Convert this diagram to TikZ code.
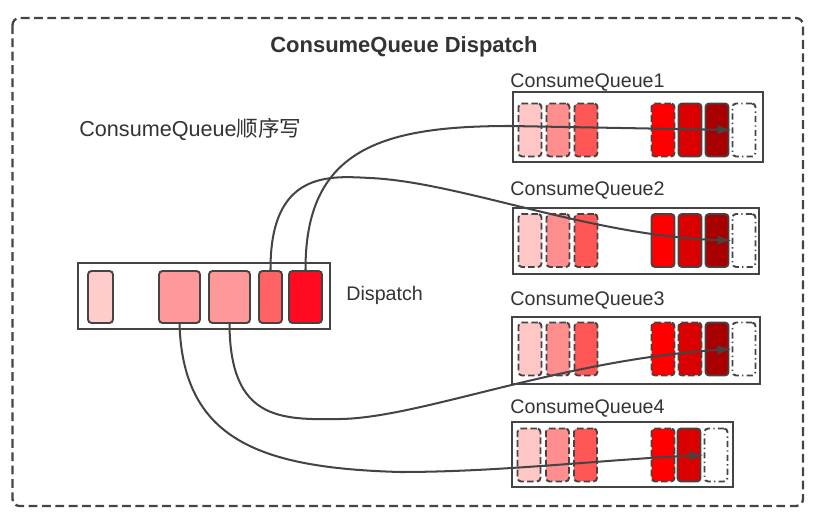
\documentclass[tikz,border=0pt]{standalone}
\usepackage{fontspec}
\setmainfont{Liberation Sans}
\newfontfamily\cjk{Noto Sans CJK SC}
\usetikzlibrary{arrows.meta}
\definecolor{edge}{HTML}{444444}
\definecolor{ink}{HTML}{333333}
\definecolor{pinkA}{HTML}{FFCCCC}
\definecolor{pinkB}{HTML}{FF9999}
\definecolor{pinkC}{HTML}{FF6262}
\definecolor{redD}{HTML}{FF0A20}
\definecolor{qA}{HTML}{FFC6C6}
\definecolor{qB}{HTML}{FF8E8E}
\definecolor{qC}{HTML}{FF5656}
\definecolor{qD}{HTML}{FF0000}
\definecolor{qE}{HTML}{DA0000}
\definecolor{qF}{HTML}{A80000}
\begin{document}
\begin{tikzpicture}[x=0.02cm, y=-0.02cm,
    frame/.style={draw=edge, line width=1.3pt, dash pattern=on 5pt off 2.6pt, rounded corners=4pt},
    qbox/.style={draw=edge, line width=1.1pt, minimum width=5cm, minimum height=1.36cm, inner sep=0pt},
    cell/.style={draw=edge, line width=1.1pt, rounded corners=2pt, minimum width=0.46cm, minimum height=1.06cm, inner sep=0pt},
    dcell/.style={cell, dash pattern=on 3.8pt off 1.8pt},
    ecell/.style={cell, fill=white, dash pattern=on 3.5pt off 1.8pt on 0.8pt off 1.8pt},
    link/.style={draw=edge, line width=1.15pt, -{Latex[length=8pt, width=5.5pt]}},
    txt/.style={text=ink, inner sep=0pt, font=\fontsize{11.2}{13}\selectfont}]
    \useasboundingbox (0,0) rectangle (818,513);
    \draw[frame] (12.5,18) rectangle (803,506);
    \node[txt, anchor=base, font=\bfseries\fontsize{12.5}{15}\selectfont] (title) at (404,53) {ConsumeQueue Dispatch};
    \node[txt, anchor=base west, font=\fontsize{12.3}{15}\selectfont] (order) at (79,137) {ConsumeQueue{\cjk 顺序写}};
    % dispatch
    \node[qbox, minimum width=5.04cm, minimum height=1.32cm] (dbox) at (204,296) {};
    \node[cell, fill=pinkA, minimum width=0.5cm, minimum height=1.04cm] (d1) at (100.5,297) {};
    \node[cell, fill=pinkB, minimum width=0.82cm, minimum height=1.04cm] (d2) at (179.5,297) {};
    \node[cell, fill=pinkB, minimum width=0.82cm, minimum height=1.04cm] (d3) at (229.5,297) {};
    \node[cell, fill=pinkC, minimum width=0.46cm, minimum height=1.04cm] (d4) at (270.5,297) {};
    \node[cell, fill=redD, minimum width=0.66cm, minimum height=1.04cm] (d5) at (305.5,297) {};
    \node[txt, anchor=west] (dlabel) at (346,295) {Dispatch};
    % queue 1
    \node[txt, anchor=base west] (q1label) at (510,88) {ConsumeQueue1};
    \node[qbox, minimum height=1.4cm] (q1) at (638,127) {};
    \node[dcell, fill=qA] (q1c1) at (530,130) {};
    \node[dcell, fill=qB] (q1c2) at (558,130) {};
    \node[dcell, fill=qC] (q1c3) at (586,130) {};
    \node[dcell, fill=qD] (q1c4) at (663,130) {};
    \node[cell, fill=qE] (q1c5) at (690,130) {};
    \node[cell, fill=qF] (q1c6) at (717,130) {};
    \node[ecell] (q1c7) at (744,130) {};
    % queue 2
    \node[txt, anchor=base west] (q2label) at (510,196) {ConsumeQueue2};
    \node[qbox, minimum width=4.92cm, minimum height=1.32cm] (q2) at (636,241) {};
    \node[dcell, fill=qA] (q2c1) at (530,240.5) {};
    \node[dcell, fill=qB] (q2c2) at (558,240.5) {};
    \node[dcell, fill=qC] (q2c3) at (586,240.5) {};
    \node[cell, fill=qD] (q2c4) at (663,240.5) {};
    \node[cell, fill=qE] (q2c5) at (690,240.5) {};
    \node[cell, fill=qF] (q2c6) at (717,240.5) {};
    \node[ecell] (q2c7) at (744,240.5) {};
    % queue 3
    \node[txt, anchor=base west] (q3label) at (510,305) {ConsumeQueue3};
    \node[qbox, minimum width=4.96cm, minimum height=1.34cm] (q3) at (636,350.5) {};
    \node[dcell, fill=qA] (q3c1) at (530,349) {};
    \node[dcell, fill=qB] (q3c2) at (558,349) {};
    \node[dcell, fill=qC] (q3c3) at (586,349) {};
    \node[dcell, fill=qD] (q3c4) at (663,349) {};
    \node[dcell, fill=qE] (q3c5) at (690,349) {};
    \node[cell, fill=qF] (q3c6) at (717,349) {};
    \node[ecell] (q3c7) at (744,349) {};
    % queue 4
    \node[txt, anchor=base west] (q4label) at (510,413) {ConsumeQueue4};
    \node[qbox, minimum width=4.42cm, minimum height=1.3cm] (q4) at (622.5,454.5) {};
    \node[dcell, fill=qA] (q4c1) at (529,455) {};
    \node[dcell, fill=qB] (q4c2) at (557.5,455) {};
    \node[dcell, fill=qC] (q4c3) at (585.5,455) {};
    \node[dcell, fill=qD] (q4c4) at (663,455) {};
    \node[cell, fill=qE] (q4c5) at (689,455) {};
    \node[ecell] (q4c6) at (716,455) {};
    % links
    \draw[link] (d5.north) .. controls (305,150) and (380,126) .. (510,126) -- (q1c7.west);
    \draw[link] (d4.north) .. controls (270,170) and (330,176) .. (370,178) .. controls (460,182) and (590,236) .. (q2c7.west);
    \draw[link] (d3.south) .. controls (230,420) and (280,420) .. (340,419) .. controls (420,418) and (560,360) .. (q3c7.west);
    \draw[link] (d2.south) .. controls (183,440) and (260,468) .. (400,472) .. controls (500,472) and (600,460) .. (q4c6.west);
\end{tikzpicture}
\end{document}
